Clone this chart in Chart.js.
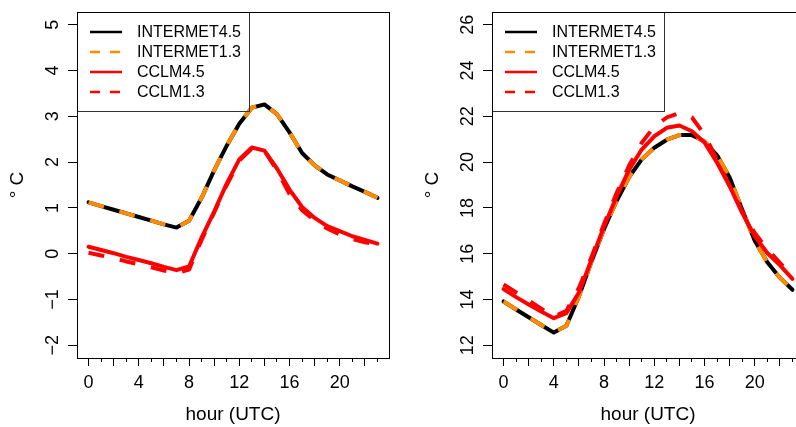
<!DOCTYPE html>
<html>
<head>
<meta charset="utf-8">
<script src="https://cdn.jsdelivr.net/npm/chart.js@4.4.1/dist/chart.umd.min.js"></script>
<style>
  html, body { margin: 0; padding: 0; background: #fff; overflow: hidden; width: 796px; height: 427px; }
  .panel { position: absolute; top: 0; width: 415px; height: 427px; }
</style>
</head>
<body>
<div class="panel" style="left:0"><canvas id="leftPanel" width="415" height="427"></canvas></div>
<div class="panel" style="left:415px"><canvas id="rightPanel" width="415" height="427"></canvas></div>
<script>
// Hours of the day (UTC)
const hours = [0, 1, 2, 3, 4, 5, 6, 7, 8, 9, 10, 11, 12, 13, 14, 15, 16, 17, 18, 19, 20, 21, 22, 23];
const hourTickLabels = [0, 4, 8, 12, 16, 20];

// Series names
const seriesNames = ['INTERMET4.5', 'INTERMET1.3', 'CCLM4.5', 'CCLM1.3'];

// Left panel (°C)
const leftIntermet45 = [1.12, 1.04, 0.96, 0.88, 0.80, 0.72, 0.64, 0.57, 0.72, 1.22, 1.82, 2.36, 2.84, 3.19, 3.26, 3.05, 2.65, 2.20, 1.93, 1.73, 1.60, 1.47, 1.35, 1.22];
const leftIntermet13 = [1.12, 1.04, 0.96, 0.88, 0.80, 0.72, 0.64, 0.57, 0.72, 1.22, 1.82, 2.36, 2.84, 3.19, 3.26, 3.05, 2.65, 2.20, 1.93, 1.73, 1.60, 1.47, 1.35, 1.22];
const leftCclm45 = [0.15, 0.08, 0.01, -0.07, -0.14, -0.21, -0.29, -0.36, -0.28, 0.35, 0.92, 1.53, 2.06, 2.32, 2.25, 1.86, 1.40, 1.02, 0.78, 0.60, 0.49, 0.38, 0.30, 0.22];
const leftCclm13 = [0.02, -0.04, -0.10, -0.17, -0.23, -0.30, -0.37, -0.42, -0.35, 0.30, 0.90, 1.50, 2.03, 2.30, 2.25, 1.82, 1.30, 0.95, 0.72, 0.55, 0.42, 0.32, 0.25, 0.20];
const leftYTicks = [-2, -1, 0, 1, 2, 3, 4, 5];

// Right panel (°C)
const rightIntermet45 = [13.91, 13.56, 13.22, 12.88, 12.55, 12.85, 14.13, 15.65, 17.08, 18.30, 19.35, 20.12, 20.63, 20.98, 21.18, 21.18, 20.90, 20.30, 19.33, 17.92, 16.56, 15.62, 14.95, 14.42];
const rightIntermet13 = [13.91, 13.56, 13.22, 12.88, 12.55, 12.85, 14.13, 15.65, 17.08, 18.30, 19.35, 20.12, 20.63, 20.98, 21.18, 21.18, 20.90, 20.30, 19.33, 17.92, 16.56, 15.62, 14.95, 14.42];
const rightCclm45 = [14.45, 14.10, 13.78, 13.47, 13.18, 13.40, 14.30, 15.73, 17.19, 18.50, 19.67, 20.55, 21.13, 21.50, 21.60, 21.35, 20.86, 19.97, 18.95, 17.78, 16.76, 16.03, 15.50, 14.90];
const rightCclm13 = [14.65, 14.30, 13.95, 13.60, 13.25, 13.50, 14.50, 15.85, 17.30, 18.65, 19.85, 20.85, 21.55, 21.95, 22.15, 21.95, 21.20, 20.10, 18.95, 17.85, 16.90, 16.20, 15.60, 15.00];
const rightYTicks = [12, 14, 16, 18, 20, 22, 24, 26];

const FONT = "'Liberation Sans', Arial, Helvetica, sans-serif";
const seriesStyles = [
  { color: '#000000', dash: [] },
  { color: '#FF8C00', dash: [16, 16] },
  { color: '#FF0000', dash: [] },
  { color: '#FF0000', dash: [16, 16] }
];

function pts(values) {
  return hours.map((h, i) => ({ x: h, y: values[i] }));
}

function fmtNum(v) {
  return v < 0 ? '\u2212' + Math.abs(v) : String(v);
}

// Plot box and in-plot legend
const frameAndLegend = {
  id: 'frameAndLegend',
  afterDatasetsDraw(chart) {
    const { ctx, chartArea: a } = chart;
    ctx.save();
    // legend
    const lx = a.left, ly = a.top, lw = 172, lh = 99;
    ctx.strokeStyle = '#333';
    ctx.lineWidth = 1;
    ctx.setLineDash([]);
    ctx.strokeRect(lx + 0.5, ly + 0.5, lw, lh);
    ctx.font = '16px ' + FONT;
    ctx.textBaseline = 'middle';
    ctx.textAlign = 'left';
    chart.data.datasets.forEach((ds, i) => {
      const y = ly + 20 + i * 20;
      ctx.beginPath();
      ctx.strokeStyle = ds.borderColor;
      ctx.lineWidth = 2.5;
      ctx.lineCap = 'butt';
      ctx.setLineDash(ds.borderDash.length ? [10, 10] : []);
      ctx.moveTo(lx + 13, y);
      ctx.lineTo(lx + 45, y);
      ctx.stroke();
      ctx.setLineDash([]);
      ctx.fillStyle = '#000';
      ctx.fillText(ds.label, lx + 60, y + 1);
    });
    // plot box
    ctx.strokeStyle = '#000';
    ctx.lineWidth = 1;
    ctx.strokeRect(a.left + 0.5, a.top + 0.5, a.right - a.left, a.bottom - a.top);
    ctx.restore();
  }
};

function makePanel(canvasId, seriesValues, yTicks) {
  const yRange = yTicks[yTicks.length - 1] - yTicks[0];
  const yMin = yTicks[0] - 0.04 * yRange;
  const yMax = yTicks[yTicks.length - 1] + 0.04 * yRange;
  const xRange = hours[hours.length - 1] - hours[0];
  const xMin = hours[0] - 0.04 * xRange;
  const xMax = hours[hours.length - 1] + 0.04 * xRange;

  const datasets = seriesValues.map((vals, i) => ({
    label: seriesNames[i],
    data: pts(vals),
    borderColor: seriesStyles[i].color,
    borderDash: seriesStyles[i].dash,
    borderWidth: 4,
    borderCapStyle: seriesStyles[i].dash.length ? 'butt' : 'round',
    borderJoinStyle: 'round',
    pointRadius: 0,
    tension: 0,
    fill: false,
    order: seriesValues.length - i
  }));

  return new Chart(document.getElementById(canvasId), {
    type: 'line',
    data: { datasets },
    options: {
      responsive: false,
      animation: false,
      devicePixelRatio: 1,
      events: [],
      layout: { padding: { left: 0, top: 12, right: 26, bottom: 0 } },
      plugins: { legend: { display: false }, tooltip: { enabled: false }, title: { display: false } },
      scales: {
        x: {
          type: 'linear',
          min: xMin,
          max: xMax,
          afterBuildTicks: s => { s.ticks = hours.map(v => ({ value: v })); },
          afterFit: s => { s.height = 69; s.paddingLeft = 0; s.paddingRight = 0; },
          border: { display: false },
          grid: {
            drawOnChartArea: false,
            drawTicks: true,
            tickLength: 8,
            tickColor: '#000',
            tickWidth: 1,
            tickBorderDash: c => (c.tick && c.tick.value % 2) ? [4, 40] : []
          },
          ticks: {
            autoSkip: false,
            minRotation: 0,
            maxRotation: 0,
            padding: 6,
            color: '#000',
            font: { family: FONT, size: 18 },
            callback: v => hourTickLabels.includes(v) ? String(v) : ''
          },
          title: {
            display: true,
            text: 'hour (UTC)',
            color: '#000',
            font: { family: FONT, size: 19 },
            padding: { top: 0, bottom: 1 }
          }
        },
        y: {
          type: 'linear',
          min: yMin,
          max: yMax,
          afterBuildTicks: s => { s.ticks = yTicks.map(v => ({ value: v })); },
          afterFit: s => { s.width = 77; s.paddingTop = 0; s.paddingBottom = 0; },
          border: { display: false },
          grid: {
            drawOnChartArea: false,
            drawTicks: true,
            tickLength: 9,
            tickColor: '#000',
            tickWidth: 1
          },
          ticks: {
            minRotation: 90,
            maxRotation: 90,
            crossAlign: 'center',
            padding: 5,
            color: '#000',
            font: { family: FONT, size: 18 },
            callback: v => fmtNum(v)
          },
          title: {
            display: true,
            text: '\u00B0 C',
            color: '#000',
            font: { family: FONT, size: 19 },
            padding: { top: 6, bottom: 0 }
          }
        }
      }
    },
    plugins: [frameAndLegend]
  });
}

makePanel('leftPanel', [leftIntermet45, leftIntermet13, leftCclm45, leftCclm13], leftYTicks);
makePanel('rightPanel', [rightIntermet45, rightIntermet13, rightCclm45, rightCclm13], rightYTicks);
</script>
</body>
</html>
